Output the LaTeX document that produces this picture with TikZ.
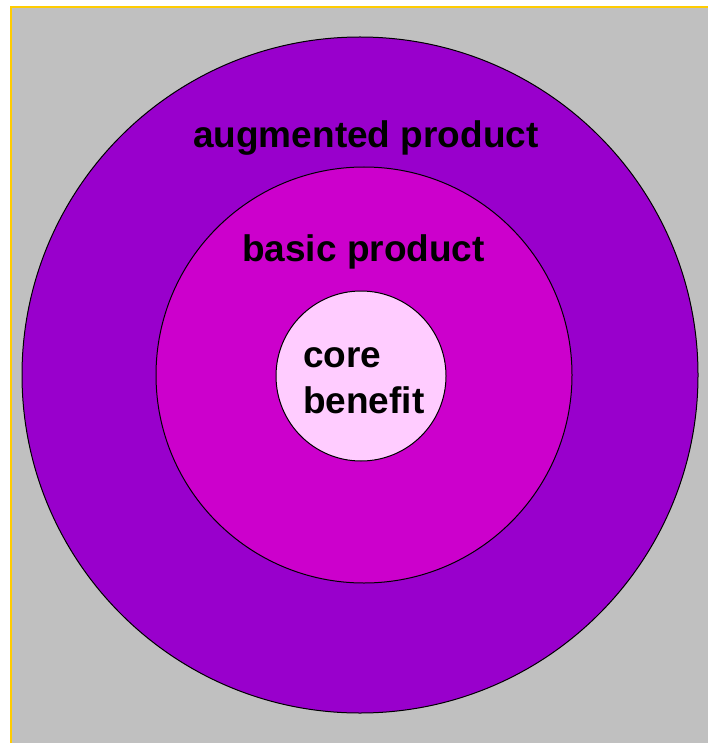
\documentclass[tikz,border=0pt]{standalone}
\usepackage{fontspec}
\setmainfont{Liberation Sans}
\definecolor{panel}{HTML}{C0C0C0}
\definecolor{rim}{HTML}{FFCC00}
\definecolor{augmented}{HTML}{9900CC}
\definecolor{basic}{HTML}{CC00CC}
\definecolor{core}{HTML}{FFCCFF}
\tikzset{
  ring/.style={draw=black,line width=1pt},
  label/.style={anchor=base west,inner sep=0pt,font=\bfseries\fontsize{37}{46}\selectfont,align=left}
}
\begin{document}
\begin{tikzpicture}[x=1pt,y=-1pt]
\useasboundingbox (0,0) rectangle (708,743);
\fill[white] (0,0) rectangle (708,743);
\fill[panel] (11,7) rectangle (708,743);
\draw[rim,line width=2.5pt] (11,743)--(11,7)--(708,7);
\draw[ring,fill=augmented] (360,375) circle (338);
\draw[ring,fill=basic] (364,375) circle (208);
\draw[ring,fill=core] (361,376) circle (85);
\node[label] (augmentedtext) at (193,148) {augmented product};
\node[label] (basictext) at (242,261) {basic product};
\node[label] (coretext) at (303,413) {core\\benefit};
\end{tikzpicture}
\end{document}
